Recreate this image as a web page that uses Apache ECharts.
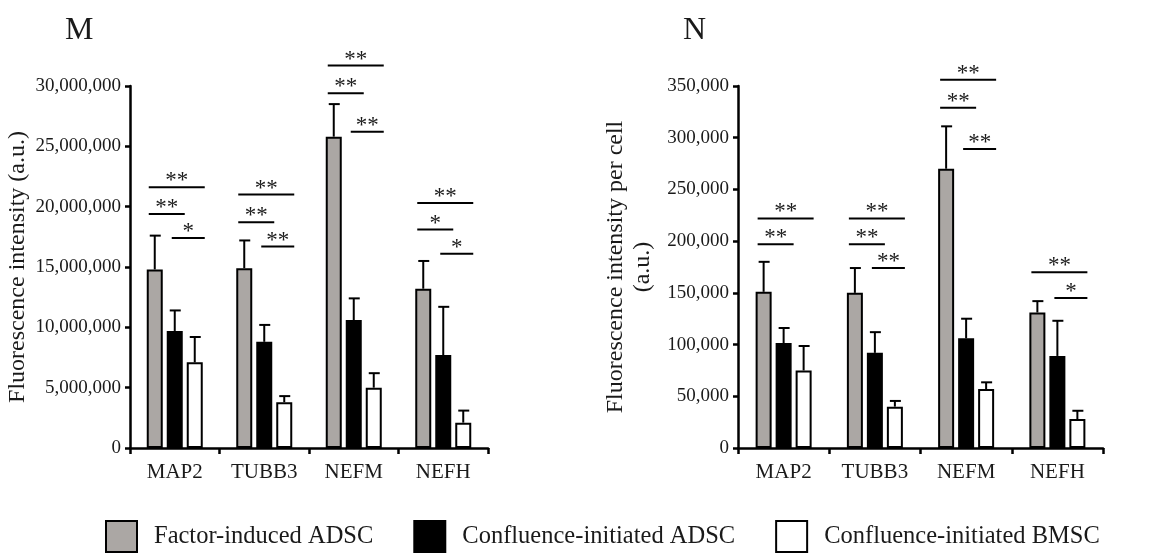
<!DOCTYPE html>
<html>
<head>
<meta charset="utf-8">
<script src="https://cdn.jsdelivr.net/npm/echarts@6/dist/echarts.min.js"></script>
<style>
  html, body { margin: 0; padding: 0; background: #fff; }
  #chart { width: 1171px; height: 554px; }
</style>
</head>
<body>
<div id="chart"></div>
<script>
// ---- data ----
const categories = ['MAP2', 'TUBB3', 'NEFM', 'NEFH'];
const groupNames = ['Factor-induced ADSC', 'Confluence-initiated ADSC', 'Confluence-initiated BMSC'];

// M: total fluorescence intensity (a.u.)
const factorTotal = [14800000, 14900000, 25800000, 13200000];
const factorTotalSd = [2800000, 2300000, 2700000, 2300000];
const adscTotal = [9700000, 8800000, 10600000, 7700000];
const adscTotalSd = [1700000, 1400000, 1800000, 4000000];
const bmscTotal = [7100000, 3800000, 5000000, 2100000];
const bmscTotalSd = [2100000, 500000, 1200000, 1000000];

// N: fluorescence intensity per cell (a.u.)
const factorCell = [151000, 150000, 270000, 131000];
const factorCellSd = [29000, 24000, 41000, 11000];
const adscCell = [101500, 92000, 106000, 89000];
const adscCellSd = [14500, 20000, 19000, 34000];
const bmscCell = [75000, 40000, 57000, 28000];
const bmscCellSd = [23600, 5500, 6500, 8000];

// significance brackets: [category, fromGroup, toGroup, height, stars]
const bracketsTotal = [
  [0, 0, 2, 21600000, 2], [0, 0, 1, 19400000, 2], [0, 1, 2, 17400000, 1],
  [1, 0, 2, 21000000, 2], [1, 0, 1, 18700000, 2], [1, 1, 2, 16700000, 2],
  [2, 0, 2, 31700000, 2], [2, 0, 1, 29400000, 2], [2, 1, 2, 26200000, 2],
  [3, 0, 2, 20300000, 2], [3, 0, 1, 18100000, 1], [3, 1, 2, 16100000, 1]
];
const bracketsCell = [
  [0, 0, 2, 222000, 2], [0, 0, 1, 197000, 2],
  [1, 0, 2, 222000, 2], [1, 0, 1, 197000, 2], [1, 1, 2, 174000, 2],
  [2, 0, 2, 356000, 2], [2, 0, 1, 329000, 2], [2, 1, 2, 289000, 2],
  [3, 0, 2, 170000, 2], [3, 1, 2, 145000, 1]
];

// ---- styling ----
const SERIF = '"Liberation Serif", "Times New Roman", serif';
const TEXT = '#1a1a1a';
const colors = ['#aba7a4', '#000000', '#ffffff'];
const BAR_W = 16;
const BAR_GAP = 4;

const chart = echarts.init(document.getElementById('chart'));

const fmt = v => v.toLocaleString('en-US');

function barX(api, cat, group) {
  const cx = api.coord([cat, 0])[0];
  return cx + (group - 1) * (BAR_W + BAR_GAP);
}

function errorSeries(gi, means, sds) {
  const data = [];
  means.forEach((m, s) => m.forEach((v, c) => data.push([c, s, v, sds[s][c]])));
  return {
    type: 'custom',
    xAxisIndex: gi,
    yAxisIndex: gi,
    z: 5,
    silent: true,
    encode: { x: 0, y: 2 },
    data: data,
    renderItem: (params, api) => {
      const c = api.value(0);
      const x = barX(api, c, api.value(1));
      const y0 = api.coord([c, api.value(2)])[1];
      const y1 = api.coord([c, api.value(2) + api.value(3)])[1];
      const st = { stroke: '#000', lineWidth: 2 };
      return {
        type: 'group',
        children: [
          { type: 'line', shape: { x1: x, y1: y0, x2: x, y2: y1 }, style: st },
          { type: 'line', shape: { x1: x - 5, y1: y1, x2: x + 6, y2: y1 }, style: st }
        ]
      };
    }
  };
}

function bracketSeries(gi, list) {
  return {
    type: 'custom',
    xAxisIndex: gi,
    yAxisIndex: gi,
    z: 6,
    clip: false,
    silent: true,
    encode: { x: 0, y: 3 },
    data: list,
    renderItem: (params, api) => {
      const c = api.value(0);
      const from = api.value(1);
      const to = api.value(2);
      const x1 = barX(api, c, from) - BAR_W / 2 + (from === 0 ? 2 : 5);
      const x2 = barX(api, c, to) + BAR_W / 2 + 2;
      const y = api.coord([c, api.value(3)])[1];
      return {
        type: 'group',
        children: [
          { type: 'line', shape: { x1: x1, y1: y, x2: x2, y2: y }, style: { stroke: '#000', lineWidth: 2 } },
          {
            type: 'text',
            x: (x1 + x2) / 2,
            y: y - 6,
            style: {
              text: '*'.repeat(api.value(4)),
              fill: TEXT,
              font: '23px ' + SERIF,
              align: 'center',
              verticalAlign: 'middle'
            }
          }
        ]
      };
    }
  };
}

function barSeries(gi, means) {
  return means.map((vals, s) => ({
    name: groupNames[s],
    type: 'bar',
    xAxisIndex: gi,
    yAxisIndex: gi,
    barWidth: BAR_W,
    barGap: (BAR_GAP / BAR_W * 100) + '%',
    itemStyle: { color: colors[s], borderColor: '#000', borderWidth: 2 },
    emphasis: { disabled: true },
    data: vals
  }));
}

function xAxis(gi) {
  return {
    type: 'category',
    gridIndex: gi,
    data: categories,
    axisLine: { lineStyle: { color: '#000', width: 2.5 } },
    axisTick: { show: true, length: 6, lineStyle: { color: '#000', width: 2.5 } },
    axisLabel: { color: TEXT, fontFamily: SERIF, fontSize: 21, margin: 14 }
  };
}

function yAxis(gi, max, interval, name, nameGap) {
  return {
    type: 'value',
    gridIndex: gi,
    min: 0,
    max: max,
    interval: interval,
    name: name,
    nameLocation: 'middle',
    nameGap: nameGap,
    nameTextStyle: { color: TEXT, fontFamily: SERIF, fontSize: 24, lineHeight: 27 },
    axisLine: { show: true, lineStyle: { color: '#000', width: 2.5 } },
    axisTick: { show: true, length: 5, lineStyle: { color: '#000', width: 2.5 } },
    splitLine: { show: false },
    axisLabel: { color: TEXT, fontFamily: SERIF, fontSize: 19, margin: 9, formatter: fmt }
  };
}

const option = {
  animation: false,
  backgroundColor: '#fff',
  grid: [
    { left: 130, top: 86, width: 358, height: 362 },
    { left: 738, top: 86, width: 365, height: 362 }
  ],
  xAxis: [xAxis(0), xAxis(1)],
  yAxis: [
    yAxis(0, 30000000, 5000000, 'Fluorescence intensity (a.u.)', 97),
    yAxis(1, 350000, 50000, 'Fluorescence intensity per cell\n(a.u.)', 82)
  ],
  legend: {
    data: groupNames,
    left: 105,
    top: 520,
    padding: 0,
    icon: 'rect',
    itemWidth: 31,
    itemHeight: 31,
    itemGap: 40,
    selectedMode: false,
    textStyle: { color: TEXT, fontFamily: SERIF, fontSize: 24.5, padding: [0, 0, 0, 12] }
  },
  graphic: [
    { type: 'text', left: 65, top: 15, style: { text: 'M', fill: TEXT, font: '32px ' + SERIF } },
    { type: 'text', left: 683, top: 15, style: { text: 'N', fill: TEXT, font: '32px ' + SERIF } }
  ],
  series: [
    ...barSeries(0, [factorTotal, adscTotal, bmscTotal]),
    ...barSeries(1, [factorCell, adscCell, bmscCell]),
    errorSeries(0, [factorTotal, adscTotal, bmscTotal], [factorTotalSd, adscTotalSd, bmscTotalSd]),
    errorSeries(1, [factorCell, adscCell, bmscCell], [factorCellSd, adscCellSd, bmscCellSd]),
    bracketSeries(0, bracketsTotal),
    bracketSeries(1, bracketsCell)
  ]
};

chart.setOption(option);
</script>
</body>
</html>
